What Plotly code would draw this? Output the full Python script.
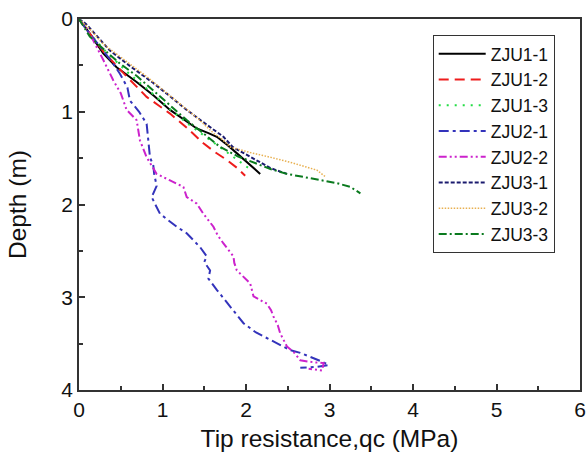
import plotly.graph_objects as go

# ---- data (tip resistance qc in MPa, depth in m) ----
zju1_1_qc = [0.0, 0.10, 0.29, 0.45, 0.69, 0.90, 1.09, 1.25, 1.41, 1.55, 1.65, 1.78, 1.89, 2.03, 2.17]
zju1_1_d  = [0.0, 0.12, 0.37, 0.52, 0.68, 0.83, 0.98, 1.08, 1.18, 1.23, 1.27, 1.36, 1.45, 1.56, 1.67]

zju1_2_qc = [0.0, 0.12, 0.30, 0.55, 0.81, 0.95, 1.09, 1.30, 1.49, 1.62, 1.77, 1.90, 1.99]
zju1_2_d  = [0.0, 0.14, 0.36, 0.60, 0.84, 0.93, 1.02, 1.18, 1.34, 1.43, 1.52, 1.61, 1.69]

zju1_3_qc = [0.0, 0.12, 0.33, 0.60, 0.85, 1.10, 1.32, 1.52, 1.72, 1.90, 2.05]
zju1_3_d  = [0.0, 0.15, 0.36, 0.59, 0.78, 0.98, 1.14, 1.27, 1.40, 1.52, 1.62]

zju2_1_qc = [0.0, 0.12, 0.29, 0.40, 0.49, 0.58, 0.61, 0.72, 0.81, 0.83, 0.85, 0.89, 0.90, 0.93, 0.87, 0.97, 1.08,
             1.17, 1.29, 1.38, 1.45, 1.53, 1.50, 1.57, 1.55, 1.65, 1.74, 1.81, 1.97, 2.12, 2.29, 2.42, 2.53,
             2.65, 2.77, 2.90, 2.99, 2.85, 2.65]
zju2_1_d  = [0.0, 0.15, 0.34, 0.47, 0.59, 0.74, 0.88, 1.00, 1.13, 1.30, 1.49, 1.58, 1.67, 1.80, 1.92, 2.10, 2.18,
             2.24, 2.31, 2.39, 2.46, 2.56, 2.62, 2.71, 2.80, 2.92, 3.02, 3.10, 3.28, 3.38, 3.46, 3.52, 3.57,
             3.60, 3.64, 3.69, 3.73, 3.75, 3.76]

zju2_2_qc = [0.0, 0.13, 0.29, 0.41, 0.50, 0.57, 0.69, 0.71, 0.73, 0.81, 0.93, 1.09, 1.25, 1.29, 1.41, 1.49,
             1.61, 1.66, 1.73, 1.85, 1.86, 1.89, 2.05, 2.07, 2.09, 2.25, 2.30, 2.33, 2.38, 2.41, 2.49, 2.58,
             2.65, 2.80, 2.93, 2.91, 2.75]
zju2_2_d  = [0.0, 0.16, 0.44, 0.66, 0.80, 0.98, 1.09, 1.20, 1.31, 1.49, 1.67, 1.74, 1.81, 1.92, 1.99, 2.10,
             2.24, 2.33, 2.42, 2.56, 2.63, 2.71, 2.85, 2.92, 2.99, 3.07, 3.14, 3.21, 3.30, 3.39, 3.53, 3.60,
             3.68, 3.70, 3.71, 3.79, 3.77]

zju3_1_qc = [0.0, 0.08, 0.20, 0.37, 0.60, 0.89, 1.10, 1.29, 1.50, 1.73, 1.84, 2.00, 2.13, 2.30, 2.49]
zju3_1_d  = [0.0, 0.05, 0.17, 0.34, 0.50, 0.69, 0.84, 0.98, 1.12, 1.27, 1.38, 1.46, 1.52, 1.61, 1.67]

zju3_2_qc = [0.0, 0.12, 0.29, 0.57, 0.81, 1.00, 1.21, 1.42, 1.61, 1.72, 1.81, 2.05, 2.29, 2.55, 2.85, 2.95]
zju3_2_d  = [0.0, 0.10, 0.27, 0.46, 0.62, 0.76, 0.91, 1.07, 1.23, 1.30, 1.38, 1.44, 1.49, 1.55, 1.63, 1.70]

zju3_3_qc = [0.0, 0.13, 0.30, 0.49, 0.70, 0.89, 1.10, 1.29, 1.50, 1.69, 1.90, 2.13, 2.30, 2.49, 2.80, 3.09, 3.25, 3.37]
zju3_3_d  = [0.0, 0.19, 0.33, 0.48, 0.62, 0.77, 0.93, 1.09, 1.24, 1.38, 1.48, 1.56, 1.62, 1.67, 1.72, 1.77, 1.81, 1.88]

series_names = ["ZJU1-1", "ZJU1-2", "ZJU1-3", "ZJU2-1", "ZJU2-2", "ZJU3-1", "ZJU3-2", "ZJU3-3"]
series_qc = [zju1_1_qc, zju1_2_qc, zju1_3_qc, zju2_1_qc, zju2_2_qc, zju3_1_qc, zju3_2_qc, zju3_3_qc]
series_d = [zju1_1_d, zju1_2_d, zju1_3_d, zju2_1_d, zju2_2_d, zju3_1_d, zju3_2_d, zju3_3_d]

x_ticks = [0, 1, 2, 3, 4, 5, 6]
y_ticks = [0, 1, 2, 3, 4]

# ---- styles ----
colors = ["#000000", "#ee1c1c", "#22dd44", "#3333bb", "#cc22cc", "#1a1a6e", "#e8b050", "#0a7a1e"]
dashes = ["solid", "10px,6px", "2px,6px", "10px,4px,3px,4px", "8px,3px,2px,3px,2px,3px",
          "4px,2px", "1.5px,1.5px", "8px,3px,2px,3px"]
widths = [2, 2, 2, 2, 2, 2, 1.5, 2]

fig = go.Figure()
for name, qc, d, c, ds, w in zip(series_names, series_qc, series_d, colors, dashes, widths):
    fig.add_trace(go.Scatter(x=qc, y=d, mode="lines", name=name,
                             line=dict(color=c, dash=ds, width=w)))

font_family = "Liberation Sans, Arial, sans-serif"
fig.update_layout(
    width=588, height=459,
    margin=dict(l=79, r=8, t=19, b=69),
    paper_bgcolor="white", plot_bgcolor="white",
    font=dict(family=font_family, color="#111111"),
    showlegend=True,
    legend=dict(x=0.706, y=0.957, xanchor="left", yanchor="top",
                bordercolor="#333333", borderwidth=1, bgcolor="white",
                font=dict(size=17.5, family=font_family), tracegroupgap=0,
                itemwidth=47),
)
axis_common = dict(ticks="inside", ticklen=6, tickwidth=1.5, tickcolor="#333",
                   showline=True, linecolor="#333333", linewidth=1.5, mirror=True,
                   showgrid=False, zeroline=False, automargin=False,
                   tickfont=dict(size=21))
fig.update_xaxes(range=[0, 6], tickvals=x_ticks, ticktext=[str(v) for v in x_ticks],
                 minor=dict(dtick=0.5, ticks="inside", ticklen=4, tickcolor="#333", tickwidth=1.5),
                 title=dict(text="Tip resistance,qc (MPa)", font=dict(size=24.5), standoff=10),
                 **axis_common)
fig.update_yaxes(range=[4, 0], tickvals=y_ticks, ticktext=[str(v) for v in y_ticks],
                 minor=dict(dtick=0.5, ticks="inside", ticklen=4, tickcolor="#333", tickwidth=1.5),
                 title=dict(text="Depth (m)", font=dict(size=24.5), standoff=28),
                 **axis_common)

fig.write_html("out.html", config={"displayModeBar": False},
               post_script="document.body.style.margin='0';document.body.style.padding='0';")
